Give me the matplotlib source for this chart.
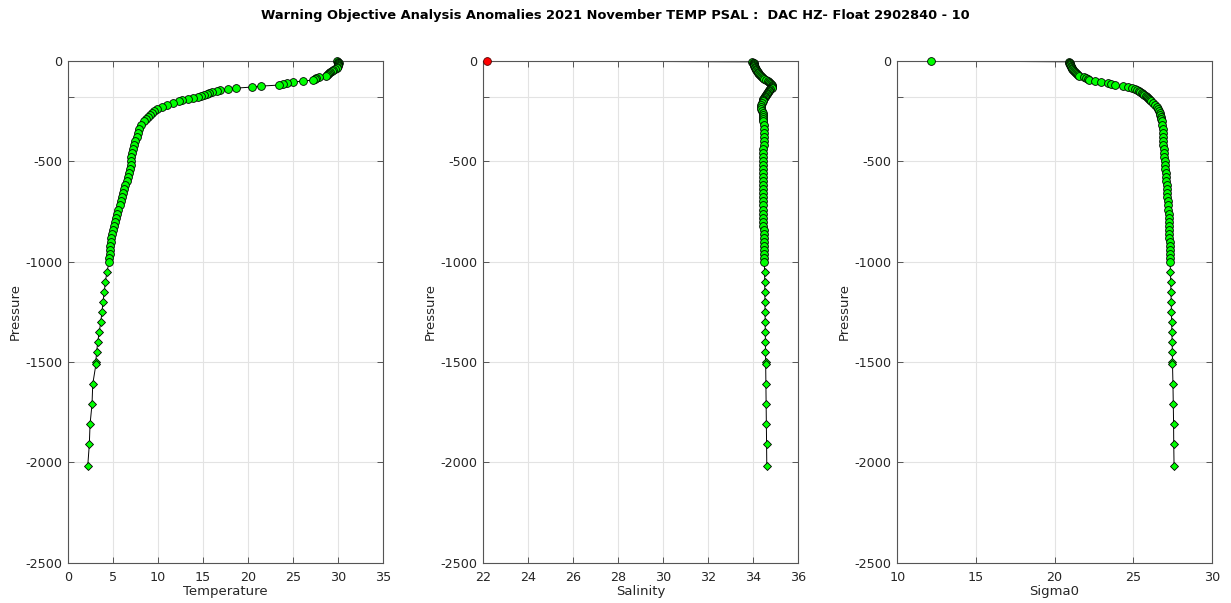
import matplotlib
matplotlib.use("Agg")
import matplotlib.pyplot as plt
import numpy as np

# Profile levels (dbar) and measured / derived values
pres = [0, 4, 8, 12, 16, 20, 25, 30, 35, 40, 45, 50, 55, 60, 65, 70, 75, 80, 85, 90,
        95, 100, 105, 110, 115, 120, 125, 130, 135, 140, 145, 150, 155, 160, 165, 170,
        175, 180, 185, 190, 195, 200, 210, 220, 230, 240, 250, 260, 270, 280, 290, 300,
        320, 340, 360, 380, 400, 420, 440, 460, 480, 500, 520, 540, 560, 580, 600, 620,
        640, 660, 680, 700, 720, 740, 760, 780, 800, 820, 840, 860, 880, 900, 920, 940,
        960, 980, 1000,
        1050, 1100, 1150, 1200, 1250, 1300, 1350, 1400, 1450, 1500, 1510, 1610, 1710,
        1810, 1910, 2020]

temp = [29.95, 30.05, 30.1, 30.05, 30.05, 30.0, 30.0, 29.95, 29.85, 29.7, 29.5, 29.3,
        29.15, 29.0, 28.9, 28.8, 28.7, 27.9, 27.6, 27.4, 27.2, 26.1, 25.0, 24.3, 23.9,
        23.4, 21.5, 20.4, 18.7, 17.8, 16.9, 16.5, 16.0, 15.7, 15.4, 15.1, 14.8, 14.4,
        13.9, 13.3, 12.7, 12.3, 11.6, 11.0, 10.4, 9.85, 9.5, 9.3, 9.1, 8.85, 8.6, 8.4,
        8.1, 7.9, 7.75, 7.6, 7.45, 7.3, 7.2, 7.1, 7.0, 7.0, 6.95, 6.85, 6.75, 6.65, 6.5,
        6.35, 6.2, 6.05, 5.95, 5.85, 5.7, 5.55, 5.45, 5.3, 5.2, 5.1, 4.95, 4.88, 4.8,
        4.73, 4.68, 4.64, 4.6, 4.57, 4.54,
        4.31, 4.12, 4.01, 3.86, 3.75, 3.61, 3.45, 3.27, 3.16, 3.05, 3.08, 2.72, 2.64,
        2.42, 2.34, 2.16]

psal = [22.15, 33.97, 34.0, 34.03, 34.04, 34.05, 34.06, 34.08, 34.1, 34.12, 34.15,
        34.18, 34.21, 34.24, 34.27, 34.3, 34.34, 34.39, 34.43, 34.5, 34.58, 34.67, 34.72,
        34.77, 34.81, 34.84, 34.86, 34.86, 34.83, 34.78, 34.74, 34.71, 34.68, 34.65,
        34.62, 34.59, 34.56, 34.53, 34.5, 34.47, 34.45, 34.43, 34.41, 34.38, 34.37,
        34.38, 34.41, 34.43, 34.44, 34.45, 34.46, 34.47,
        34.48, 34.49, 34.5, 34.5, 34.49, 34.48, 34.47, 34.46, 34.45, 34.44, 34.44,
        34.44, 34.44, 34.44, 34.44, 34.44, 34.44, 34.44, 34.44, 34.44, 34.45, 34.45,
        34.46, 34.46, 34.47, 34.47, 34.48, 34.48, 34.49, 34.49, 34.5, 34.5, 34.5, 34.51,
        34.51,
        34.52, 34.53, 34.53, 34.54, 34.54, 34.55, 34.55, 34.56, 34.56, 34.57, 34.57,
        34.58, 34.59, 34.6, 34.61, 34.62]

sigma0 = [12.12, 20.93, 20.95, 20.97, 20.98, 21.0, 21.02, 21.05, 21.08, 21.13, 21.19,
          21.25, 21.33, 21.38, 21.43, 21.47, 21.55, 21.9, 22.02, 22.12, 22.2, 22.55,
          22.95, 23.4, 23.57, 23.84, 24.35, 24.65, 24.95, 25.1, 25.25, 25.35, 25.45,
          25.53, 25.62, 25.72, 25.8, 25.88, 25.95, 26.02, 26.08, 26.14, 26.27, 26.39,
          26.49, 26.57, 26.64, 26.68, 26.72, 26.77, 26.8, 26.82,
          26.85, 26.87, 26.89, 26.9, 26.91, 26.92, 26.94, 26.96, 26.98, 27.0, 27.02,
          27.04, 27.06, 27.08, 27.1, 27.12, 27.14, 27.16, 27.18, 27.2, 27.22, 27.23,
          27.25, 27.26, 27.27, 27.28, 27.29, 27.3, 27.31, 27.32, 27.33, 27.34, 27.34,
          27.35, 27.35,
          27.37, 27.39, 27.4, 27.42, 27.43, 27.45, 27.46, 27.48, 27.49, 27.5, 27.5,
          27.53, 27.55, 27.57, 27.58, 27.6]

# salinity samples flagged by the objective analysis check
psal_bad_idx = [0]

title = ("Warning Objective Analysis Anomalies 2021 November TEMP PSAL :  "
         "DAC HZ- Float 2902840 - 10")

panels = [
    ("Temperature", temp, (0, 35), np.arange(0, 36, 5), []),
    ("Salinity", psal, (22, 36), np.arange(22, 37, 2), psal_bad_idx),
    ("Sigma0", sigma0, (10, 30), np.arange(10, 31, 5), []),
]
yticks = np.arange(-2500, 1, 500)

plt.rcParams["font.family"] = ["DejaVu Sans"]
plt.rcParams["axes.unicode_minus"] = False

W, H = 1231, 603
fig = plt.figure(figsize=(W / 100, H / 100), dpi=100)
fig.patch.set_facecolor("white")

ax_left = [68.3, 483.3, 897.3]
ax_w = 314.5
ax_top, ax_bot = 61.0, 562.7

axis_col = "#555555"
text_col = "#262626"
grid_col = "#e3e3e3"

p = np.asarray(pres, dtype=float)
shallow = p <= 1020
deep = ~shallow

for (label, vals, xlim, xt, bad), lx in zip(panels, ax_left):
    ax = fig.add_axes([lx / W, (H - ax_bot) / H, ax_w / W, (ax_bot - ax_top) / H])
    v = np.asarray(vals, dtype=float)
    ax.plot(v, -p, color="black", lw=0.7, zorder=3)
    good_sh = shallow.copy()
    good_dp = deep.copy()
    good_sh[bad] = False
    good_dp[bad] = False
    ax.plot(v[good_sh], -p[good_sh], ls="none", marker="o", ms=5.6,
            mfc="#00ff00", mec="black", mew=0.6, zorder=4, clip_on=False)
    ax.plot(v[good_dp], -p[good_dp], ls="none", marker="D", ms=4.3,
            mfc="#00ff00", mec="black", mew=0.6, zorder=4, clip_on=False)
    if bad:
        ax.plot(v[bad], -p[bad], ls="none", marker="o", ms=5.6,
                mfc="#ff0000", mec="#550000", mew=0.6, zorder=5, clip_on=False)

    ax.set_xlim(*xlim)
    ax.set_ylim(-2500, 0)
    ax.set_xticks(xt)
    ax.set_yticks(yticks)
    ax.set_yticks([-180], minor=True)
    ax.grid(True, which="both", color=grid_col, lw=0.8)
    ax.set_axisbelow(True)
    ax.tick_params(which="both", direction="in", length=4.5, width=0.7,
                   colors=axis_col, labelcolor=text_col, labelsize=9.2,
                   top=True, right=True)
    ax.tick_params(axis="x", pad=6)
    ax.tick_params(axis="y", pad=4)
    for s in ax.spines.values():
        s.set_color(axis_col)
        s.set_linewidth(0.8)
        s.set_zorder(3.5)
    ax.set_xlabel(label, fontsize=9.5, color=text_col, labelpad=1)
    ax.set_ylabel("Pressure", fontsize=9.5, color=text_col, labelpad=3)

fig.suptitle(title, x=0.5, y=1 - 15 / H, va="center", fontsize=9.4,
             fontweight="bold", color="black")

fig.savefig("out.png", dpi=100)
